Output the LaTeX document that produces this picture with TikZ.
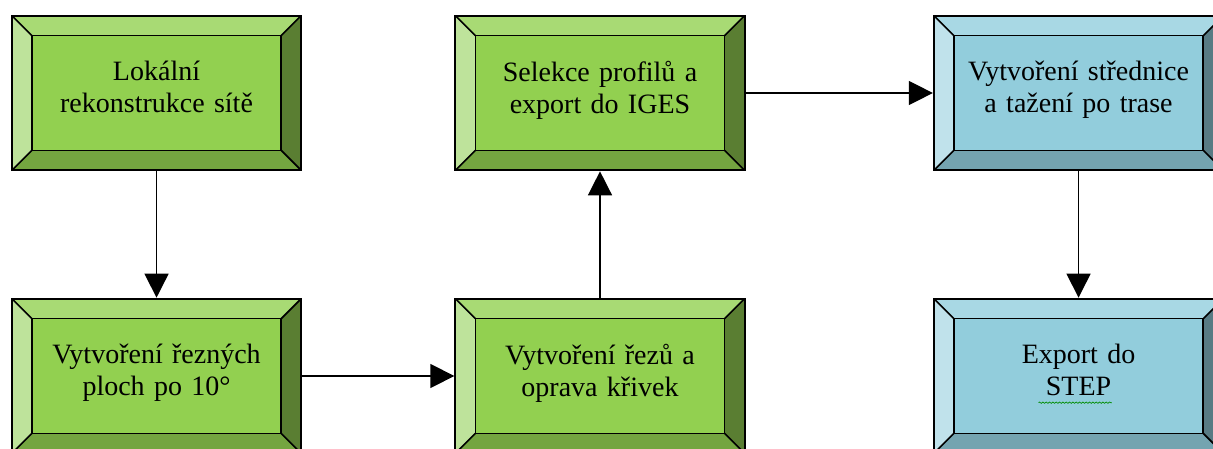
\documentclass[tikz,border=0pt]{standalone}
\usepackage{fontspec}
\setmainfont{Liberation Serif}
\usetikzlibrary{positioning,arrows.meta,decorations.pathmorphing}

\definecolor{grfront}{HTML}{92D050}
\definecolor{grtop}{HTML}{A8DA74}
\definecolor{grleft}{HTML}{BEE39B}
\definecolor{grbottom}{HTML}{74A540}
\definecolor{grright}{HTML}{5A7E32}
\definecolor{blfront}{HTML}{92CDDC}
\definecolor{bltop}{HTML}{A8D8E4}
\definecolor{blleft}{HTML}{C0E2EB}
\definecolor{blbottom}{HTML}{74A4B0}
\definecolor{blright}{HTML}{587B84}

\begin{document}
\begin{tikzpicture}[
    bevelbox/.style n args={5}{rectangle,draw,line width=1.5pt,fill=#1,
		minimum width=217pt,minimum height=116pt,text width=190pt,
		text depth=33pt,
		align=center,font=\fontsize{21}{24}\selectfont,
		path picture={
		  \coordinate (bnw) at (path picture bounding box.north west);
		  \coordinate (bne) at (path picture bounding box.north east);
		  \coordinate (bsw) at (path picture bounding box.south west);
		  \coordinate (bse) at (path picture bounding box.south east);
		  \coordinate (inw) at ([shift={(15pt,-15pt)}]bnw);
		  \coordinate (ine) at ([shift={(-15pt,-15pt)}]bne);
		  \coordinate (isw) at ([shift={(15pt,15pt)}]bsw);
		  \coordinate (ise) at ([shift={(-15pt,15pt)}]bse);
		  \fill [#2] (bnw) -- (bne) -- (ine) -- (inw) -- cycle;
		  \fill [#3] (bnw) -- (bsw) -- (isw) -- (inw) -- cycle;
		  \fill [#4] (bsw) -- (bse) -- (ise) -- (isw) -- cycle;
		  \fill [#5] (bne) -- (bse) -- (ise) -- (ine) -- cycle;
		  \draw [line width=1.2pt] (inw) rectangle (ise);
		  \draw [line width=1.2pt] (bnw) -- (inw) (bne) -- (ine)
		    (bsw) -- (isw) (bse) -- (ise);
		}},
    greenbox/.style={bevelbox={grfront}{grtop}{grleft}{grbottom}{grright}},
    bluebox/.style={bevelbox={blfront}{bltop}{blleft}{blbottom}{blright}},
    ]
   \useasboundingbox (0,0) rectangle (909.75pt,-336.75pt);
   \clip (0,0) rectangle (909.75pt,-336.75pt);
   \begin{scope}[node distance=212.25pt,on grid,
		>={Triangle[length=18pt,width=18pt]},line width=1.1pt]

    % Place nodes
    \node [greenbox] (lokal) at (117.4pt,-69.75pt) {Lokální\\rekonstrukce sítě};
    \node [greenbox,below=of lokal] (plochy) {Vytvoření řezných\\ploch po 10°};
    \node [greenbox,right=332.6pt of plochy] (rezy) {Vytvoření řezů a\\oprava křivek};
    \node [greenbox,above=of rezy] (selekce) {Selekce profilů a\\export do IGES};
    \node [bluebox,right=358.9pt of selekce] (strednice) {Vytvoření střednice\\a tažení po trase};
    \node [bluebox,below=of strednice] (export) {Export do\\STEP};

    % underline of STEP
    \draw [decorate,decoration={snake,amplitude=0.5pt,segment length=2.5pt},
	line width=0.5pt,green!55!black]
	([shift={(-30pt,-20pt)}]export.center) -- ([shift={(25pt,-20pt)}]export.center);

    % Draw edges
    \draw [->] (lokal) -- (plochy);
    \draw [->] (plochy) -- (rezy);
    \draw [->] (rezy) -- (selekce);
    \draw [->] (selekce) -- (strednice);
    \draw [->] (strednice) -- (export);

\end{scope}
\end{tikzpicture}
\end{document}
